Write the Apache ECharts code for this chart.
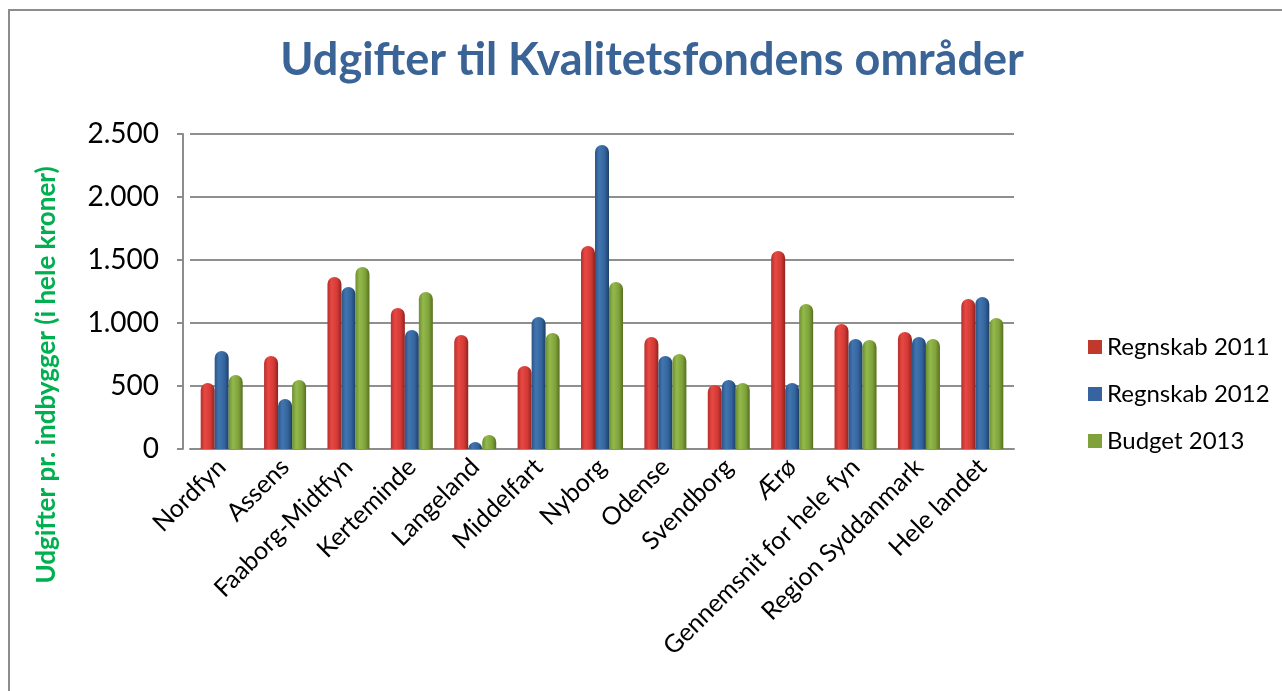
<!DOCTYPE html>
<html>
<head>
<meta charset="utf-8">
<script src="https://cdn.jsdelivr.net/npm/echarts@6/dist/echarts.min.js"></script>
<style>
  html, body { margin: 0; padding: 0; background: #fff; }
  #frame { position: absolute; left: 8px; top: 9px; width: 1400px; height: 800px;
           border-left: 2px solid #8c8c8c; border-top: 2px solid #8c8c8c; }
  #chart { position: absolute; left: 0; top: 0; width: 1282px; height: 691px; }
</style>
</head>
<body>
<div id="frame"></div>
<div id="chart"></div>
<script>
const categories = ['Nordfyn', 'Assens', 'Faaborg-Midtfyn', 'Kerteminde', 'Langeland', 'Middelfart',
  'Nyborg', 'Odense', 'Svendborg', 'Ærø', 'Gennemsnit for hele fyn', 'Region Syddanmark', 'Hele landet'];
const regnskab2011 = [524, 738, 1365, 1119, 905, 659, 1611, 889, 508, 1571, 992, 929, 1190];
const regnskab2012 = [778, 397, 1286, 944, 56, 1048, 2413, 738, 548, 524, 873, 889, 1206];
const budget2013   = [587, 548, 1444, 1246, 111, 921, 1325, 754, 524, 1151, 865, 873, 1040];
const seriesNames = ['Regnskab 2011', 'Regnskab 2012', 'Budget 2013'];
const yTicks = [0, 500, 1000, 1500, 2000, 2500];

const FONT = 'Lato';
function cyl(edgeL, hi, mid, edgeR) {
  return new echarts.graphic.LinearGradient(0, 0, 1, 0, [
    { offset: 0, color: edgeL }, { offset: 0.3, color: hi },
    { offset: 0.7, color: mid }, { offset: 1, color: edgeR }
  ]);
}
const styles = [
  { fill: cyl('#B52F2B', '#E84843', '#D33A35', '#8E2320'), flat: '#C0392B' },
  { fill: cyl('#2A5587', '#4275B0', '#33649D', '#1E3F66'), flat: '#3763A0' },
  { fill: cyl('#6E8E30', '#93B94C', '#7FA23B', '#56701F'), flat: '#7FA23B' }
];
const dataSets = [regnskab2011, regnskab2012, budget2013];

const chart = echarts.init(document.getElementById('chart'), null, { renderer: 'canvas' });
chart.setOption({
  backgroundColor: 'transparent',
  animation: false,
  title: {
    text: 'Udgifter til Kvalitetsfondens områder',
    left: 647, top: 33, textAlign: 'center',
    textStyle: { fontFamily: FONT, fontWeight: 'bold', fontSize: 45, color: '#3A6396' }
  },
  legend: {
    orient: 'vertical', left: 1083, top: 330, itemGap: 23,
    itemWidth: 14, itemHeight: 14, icon: 'rect',
    data: seriesNames.map((n, i) => ({ name: n, itemStyle: { color: styles[i].flat } })),
    textStyle: { fontFamily: FONT, fontSize: 24, color: '#000', padding: [0, 0, 0, 0] }
  },
  graphic: [{
    type: 'text', x: 47, y: 375, rotation: Math.PI / 2,
    style: { text: 'Udgifter pr. indbygger (i hele kroner)', fill: '#00B050',
             font: 'bold 26px ' + FONT, textAlign: 'center', textVerticalAlign: 'middle' }
  }],
  grid: { left: 190, right: 268, top: 134, bottom: 242, containLabel: false },
  xAxis: {
    type: 'category', data: categories,
    axisLine: { lineStyle: { color: '#8C8C8C', width: 2 } },
    axisTick: { show: false },
    axisLabel: { rotate: 45, margin: 14, interval: 0, fontFamily: FONT, fontSize: 25, color: '#000' }
  },
  yAxis: {
    type: 'value', min: 0, max: 2500, interval: 500, offset: 7,
    axisLine: { show: true, lineStyle: { color: '#8C8C8C', width: 2 } },
    axisTick: { show: true, length: 6, lineStyle: { color: '#8C8C8C', width: 2 } },
    splitLine: { lineStyle: { color: '#8F8F8F', width: 2 } },
    axisLabel: { margin: 24, fontFamily: FONT, fontSize: 28, color: '#000',
      formatter: v => yTicks.includes(v) ? String(v).replace(/\B(?=(\d{3})+(?!\d))/g, '.') : '' }
  },
  series: dataSets.map((d, i) => ({
    name: seriesNames[i], type: 'bar', data: d,
    barWidth: 14, barGap: '0%',
    itemStyle: { color: styles[i].fill, borderRadius: [7, 7, 0, 0] }
  }))
});
</script>
</body>
</html>
